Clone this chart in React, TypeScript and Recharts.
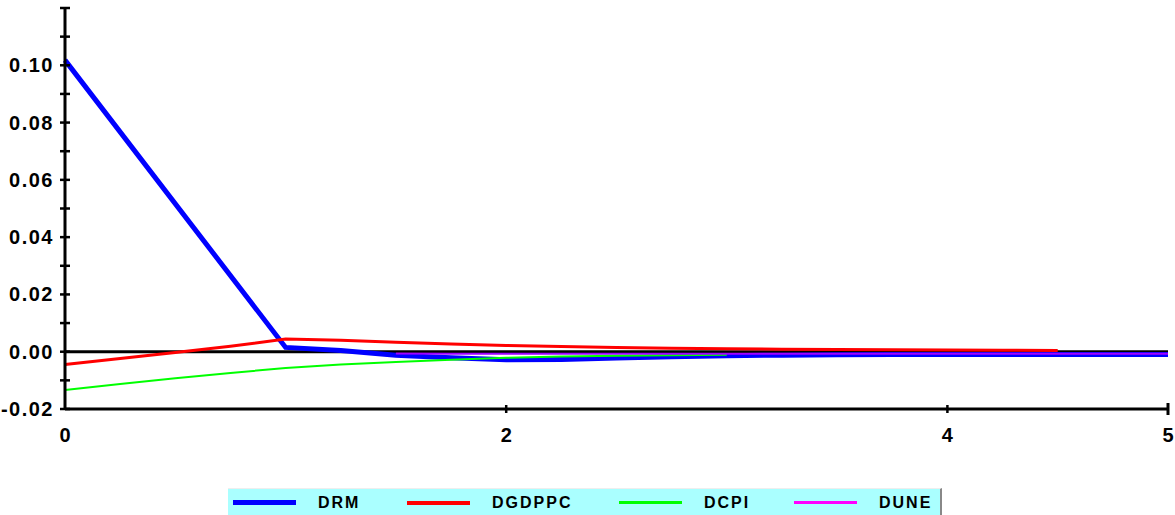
import { LineChart, Line, XAxis, YAxis, ReferenceLine } from "recharts";

// horizon steps (quarters)
const steps = [0, 0.25, 0.5, 0.75, 1, 1.25, 1.5, 1.75, 2, 2.25, 2.5, 2.75, 3, 3.25, 3.5, 3.75, 4, 4.25, 4.5, 4.75, 5];

const drm = [0.1018, null, null, null, 0.0015, 0.0004, -0.0012, -0.0021, -0.0028, -0.0027, -0.0022, -0.0018, -0.0014, -0.0012, -0.0011, -0.001, -0.001, -0.001, -0.001, -0.001, -0.001];
const dgdppc = [-0.0045, -0.0024, -0.0003, 0.0019, 0.0044, 0.004, 0.0033, 0.0027, 0.0022, 0.0018, 0.0015, 0.0012, 0.001, 0.0009, 0.0008, 0.0007, 0.0006, 0.0005, 0.0004, null, null];
const dcpi = [-0.0134, -0.0113, -0.0093, -0.0074, -0.0057, -0.0045, -0.0036, -0.0028, -0.0021, -0.0017, -0.0014, -0.0012, -0.0011, null, null, null, null, null, null, null, null];
// early part of DUNE sits under the zero line in the picture
const dune = [null, null, null, null, null, null, -0.0006, -0.0007, -0.0007, -0.0007, -0.0007, -0.0007, -0.0007, -0.0007, -0.0007, -0.0007, -0.0007, -0.0007, -0.0007, -0.0007, -0.0007];

const xTicks = [0, 2, 4, 5];
const yTicks = [-0.02, -0.01, 0, 0.01, 0.02, 0.03, 0.04, 0.05, 0.06, 0.07, 0.08, 0.09, 0.1, 0.11, 0.12];

const series = [
  { name: "DRM", values: drm, color: "#0000ff", width: 5, legendColor: "#0000ff", legendWidth: 5 },
  { name: "DGDPPC", values: dgdppc, color: "#ff0000", width: 3, legendColor: "#ff0000", legendWidth: 4 },
  { name: "DCPI", values: dcpi, color: "#00ff00", width: 2, legendColor: "#00ff00", legendWidth: 3 },
  { name: "DUNE", values: dune, color: "#a000ff", width: 2, legendColor: "#ff00ff", legendWidth: 3 },
];

const data = steps.map((x, i) => {
  const row: any = { x };
  series.forEach(s => { row[s.name] = s.values[i]; });
  return row;
});

const font = { fontFamily: "'Liberation Sans', Arial, sans-serif", fontWeight: 700 };

function YTick(props: any) {
  const { x, y, payload } = props;
  const cents = Math.round(payload.value * 100);
  const labelled = cents % 2 === 0 && cents <= 10;
  return (
    <g>
      <line x1={x - 5} x2={x + 5} y1={y} y2={y} stroke="#000" strokeWidth={2.5} />
      {labelled && (
        <text x={x - 11} y={y} dy={7} textAnchor="end" fontSize={20} letterSpacing={1.5} fill="#000" style={font}>
          {(cents / 100).toFixed(2)}
        </text>
      )}
    </g>
  );
}

function XTick(props: any) {
  const { x, y, payload } = props;
  const end = payload.value === 5;
  return (
    <g>
      {payload.value !== 0 && (
        <line x1={x} x2={x} y1={y - (end ? 6 : 4)} y2={y + (end ? 6 : 4)} stroke="#000" strokeWidth={end ? 3 : 2.5} />
      )}
      <text x={x} y={y} dy={33} textAnchor="middle" fontSize={20} fill="#000" style={font}>
        {payload.value}
      </text>
    </g>
  );
}

const legendPos = [5, 179, 391, 566];

export default function App() {
  return (
    <div style={{ position: "absolute", left: 0, top: 0, width: 1175, height: 515, background: "#fff" }}>
      <LineChart width={1175} height={515} data={data} margin={{ top: 8, right: 7, bottom: 66, left: 0 }}>
        <XAxis
          dataKey="x"
          type="number"
          domain={[0, 5]}
          ticks={xTicks}
          height={40}
          tickSize={0}
          tickMargin={0}
          tickLine={false}
          axisLine={{ stroke: "#000", strokeWidth: 3 }}
          tick={(p: any) => <XTick {...p} />}
          interval={0}
        />
        <YAxis
          type="number"
          domain={[-0.02, 0.12]}
          ticks={yTicks}
          width={65}
          tickSize={0}
          tickMargin={0}
          tickLine={false}
          axisLine={{ stroke: "#000", strokeWidth: 3 }}
          tick={(p: any) => <YTick {...p} />}
          interval={0}
        />
        <ReferenceLine y={0} stroke="#000" strokeWidth={3} />
        {series.map(s => (
          <Line
            key={s.name}
            type="linear"
            dataKey={s.name}
            stroke={s.color}
            strokeWidth={s.width}
            dot={false}
            connectNulls
            isAnimationActive={false}
          />
        ))}
      </LineChart>
      <div
        style={{
          position: "absolute",
          left: 228,
          top: 488,
          width: 714,
          height: 27,
          background: "#aaffff",
          borderRight: "2px solid #888",
          borderTop: "1px solid #eee",
          boxSizing: "border-box",
        }}
      >
        {series.map((s, i) => (
          <div key={s.name} style={{ position: "absolute", left: legendPos[i], top: 0, height: 27, display: "flex", alignItems: "center" }}>
            <span style={{ display: "inline-block", width: 63, height: s.legendWidth, background: s.legendColor }} />
            <span style={{ marginLeft: 22, fontSize: 16, letterSpacing: 2, color: "#000", ...font }}>{s.name}</span>
          </div>
        ))}
      </div>
    </div>
  );
}
